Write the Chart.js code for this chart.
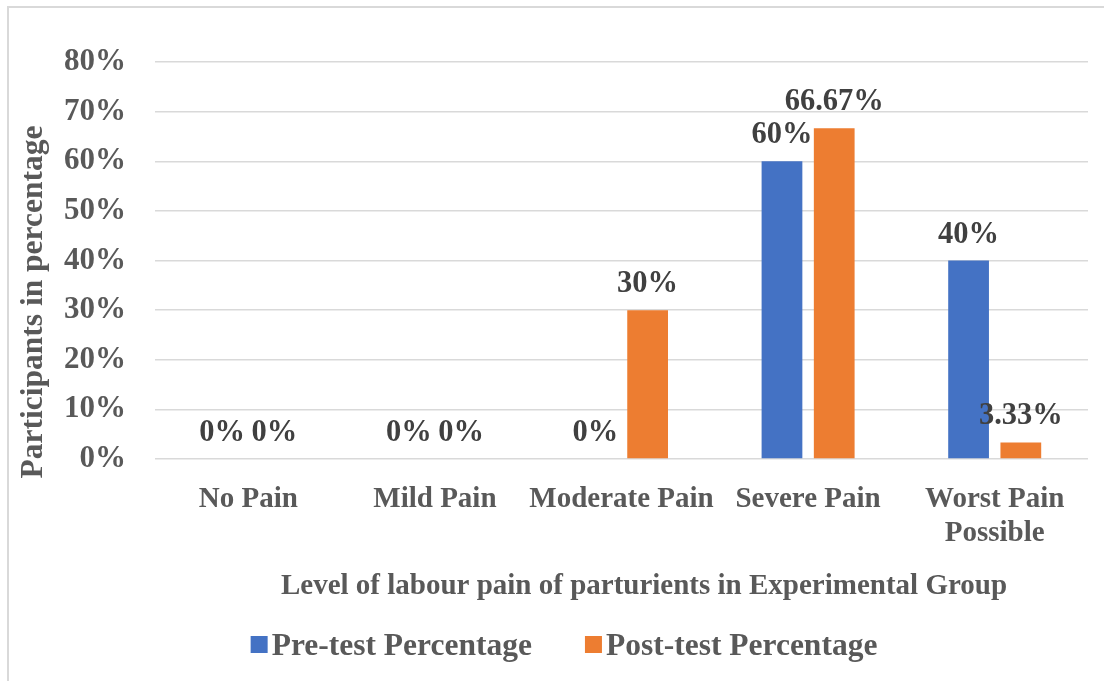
<!DOCTYPE html>
<html>
<head>
<meta charset="utf-8">
<title>Level of labour pain of parturients in Experimental Group</title>
<script src="https://cdn.jsdelivr.net/npm/chart.js@4.4.1/dist/chart.umd.min.js"></script>
<style>
  html, body { margin: 0; padding: 0; background: #ffffff; }
  #wrap { width: 1104px; height: 681px; position: relative; }
</style>
</head>
<body>
<div id="wrap"><canvas id="chart" width="1104" height="681"></canvas></div>
<script>
// Pain levels and percentages of participants
const categories = ['No Pain', 'Mild Pain', 'Moderate Pain', 'Severe Pain', ['Worst Pain', 'Possible']];
const preTest = [0, 0, 0, 60, 40];
const postTest = [0, 0, 30, 66.67, 3.33];
const seriesNames = ['Pre-test Percentage', 'Post-test Percentage'];
const yTicks = [0, 10, 20, 30, 40, 50, 60, 70, 80];
const xTitle = 'Level of labour pain of parturients in Experimental Group';
const yTitle = 'Participants in percentage';

const FAMILY = '"Liberation Serif", "Times New Roman", serif';
const AXIS_TEXT = '#595959';
const LABEL_TEXT = '#404040';
const BLUE = '#4472C4';
const ORANGE = '#ED7D31';

// Light frame around the chart
const framePlugin = {
  id: 'frame',
  beforeDraw(chart) {
    const ctx = chart.ctx;
    ctx.save();
    ctx.fillStyle = '#ffffff';
    ctx.fillRect(0, 0, chart.width, chart.height);
    ctx.fillStyle = '#d9d9d9';
    ctx.fillRect(7, 6, 2, chart.height - 6);
    ctx.fillRect(7, 6, chart.width - 7, 2);
    ctx.restore();
  }
};

// Value labels above each bar
const valueLabels = {
  id: 'valueLabels',
  afterDatasetsDraw(chart) {
    const ctx = chart.ctx;
    ctx.save();
    ctx.font = 'bold 30.5px ' + FAMILY;
    ctx.fillStyle = LABEL_TEXT;
    ctx.textAlign = 'center';
    ctx.textBaseline = 'alphabetic';
    chart.data.datasets.forEach((ds, di) => {
      const meta = chart.getDatasetMeta(di);
      meta.data.forEach((bar, i) => {
        ctx.fillText(ds.data[i] + '%', bar.x, bar.y - 18);
      });
    });
    ctx.restore();
  }
};

// Axis titles and legend row
const titlesAndLegend = {
  id: 'titlesAndLegend',
  afterDraw(chart) {
    const ctx = chart.ctx;
    ctx.save();
    ctx.fillStyle = AXIS_TEXT;

    // y-axis title, rotated
    ctx.font = 'bold 31.5px ' + FAMILY;
    ctx.textAlign = 'center';
    ctx.textBaseline = 'middle';
    ctx.translate(34, 302);
    ctx.rotate(-Math.PI / 2);
    ctx.fillText(yTitle, 0, 0);
    ctx.setTransform(1, 0, 0, 1, 0, 0);

    // x-axis title
    ctx.font = 'bold 29px ' + FAMILY;
    ctx.textAlign = 'center';
    ctx.textBaseline = 'alphabetic';
    ctx.fillText(xTitle, 644, 594);

    // legend
    ctx.font = 'bold 31.5px ' + FAMILY;
    ctx.textAlign = 'left';
    const box = 17, gapText = 4, gapItem = 53;
    const widths = chart.data.datasets.map(ds => ctx.measureText(ds.label).width);
    const total = widths.reduce((s, w) => s + box + gapText + w, 0) + gapItem * (widths.length - 1);
    let x = 564 - total / 2;
    chart.data.datasets.forEach((ds, i) => {
      ctx.fillStyle = ds.backgroundColor;
      ctx.fillRect(x, 636, box, box);
      x += box + gapText;
      ctx.fillStyle = AXIS_TEXT;
      ctx.fillText(ds.label, x, 655);
      x += widths[i] + gapItem;
    });
    ctx.restore();
  }
};

new Chart(document.getElementById('chart'), {
  type: 'bar',
  data: {
    labels: categories,
    datasets: [
      { label: seriesNames[0], data: preTest, backgroundColor: BLUE,
        categoryPercentage: 0.56, barPercentage: 0.78 },
      { label: seriesNames[1], data: postTest, backgroundColor: ORANGE,
        categoryPercentage: 0.56, barPercentage: 0.78 }
    ]
  },
  options: {
    responsive: false,
    animation: false,
    devicePixelRatio: 1,
    layout: { padding: { left: 0, top: 62, right: 16, bottom: 0 } },
    plugins: {
      legend: { display: false },
      tooltip: { enabled: false },
      title: { display: false }
    },
    scales: {
      x: {
        grid: { display: false },
        border: { display: false },
        ticks: {
          color: AXIS_TEXT,
          padding: 16,
          maxRotation: 0,
          autoSkip: false,
          font: { family: FAMILY, size: 29, weight: 'bold', lineHeight: 1.17 }
        },
        afterFit(scale) { scale.height = 222; }
      },
      y: {
        min: yTicks[0],
        max: yTicks[yTicks.length - 1],
        afterBuildTicks(scale) { scale.ticks = yTicks.map(v => ({ value: v })); },
        grid: { color: '#d9d9d9', lineWidth: 1.5, drawTicks: false },
        border: { display: false },
        ticks: {
          color: AXIS_TEXT,
          padding: 29,
          callback: v => v + '%',
          font: { family: FAMILY, size: 31, weight: 'bold' }
        },
        afterFit(scale) { scale.width = 155; }
      }
    }
  },
  plugins: [framePlugin, valueLabels, titlesAndLegend]
});
</script>
</body>
</html>
